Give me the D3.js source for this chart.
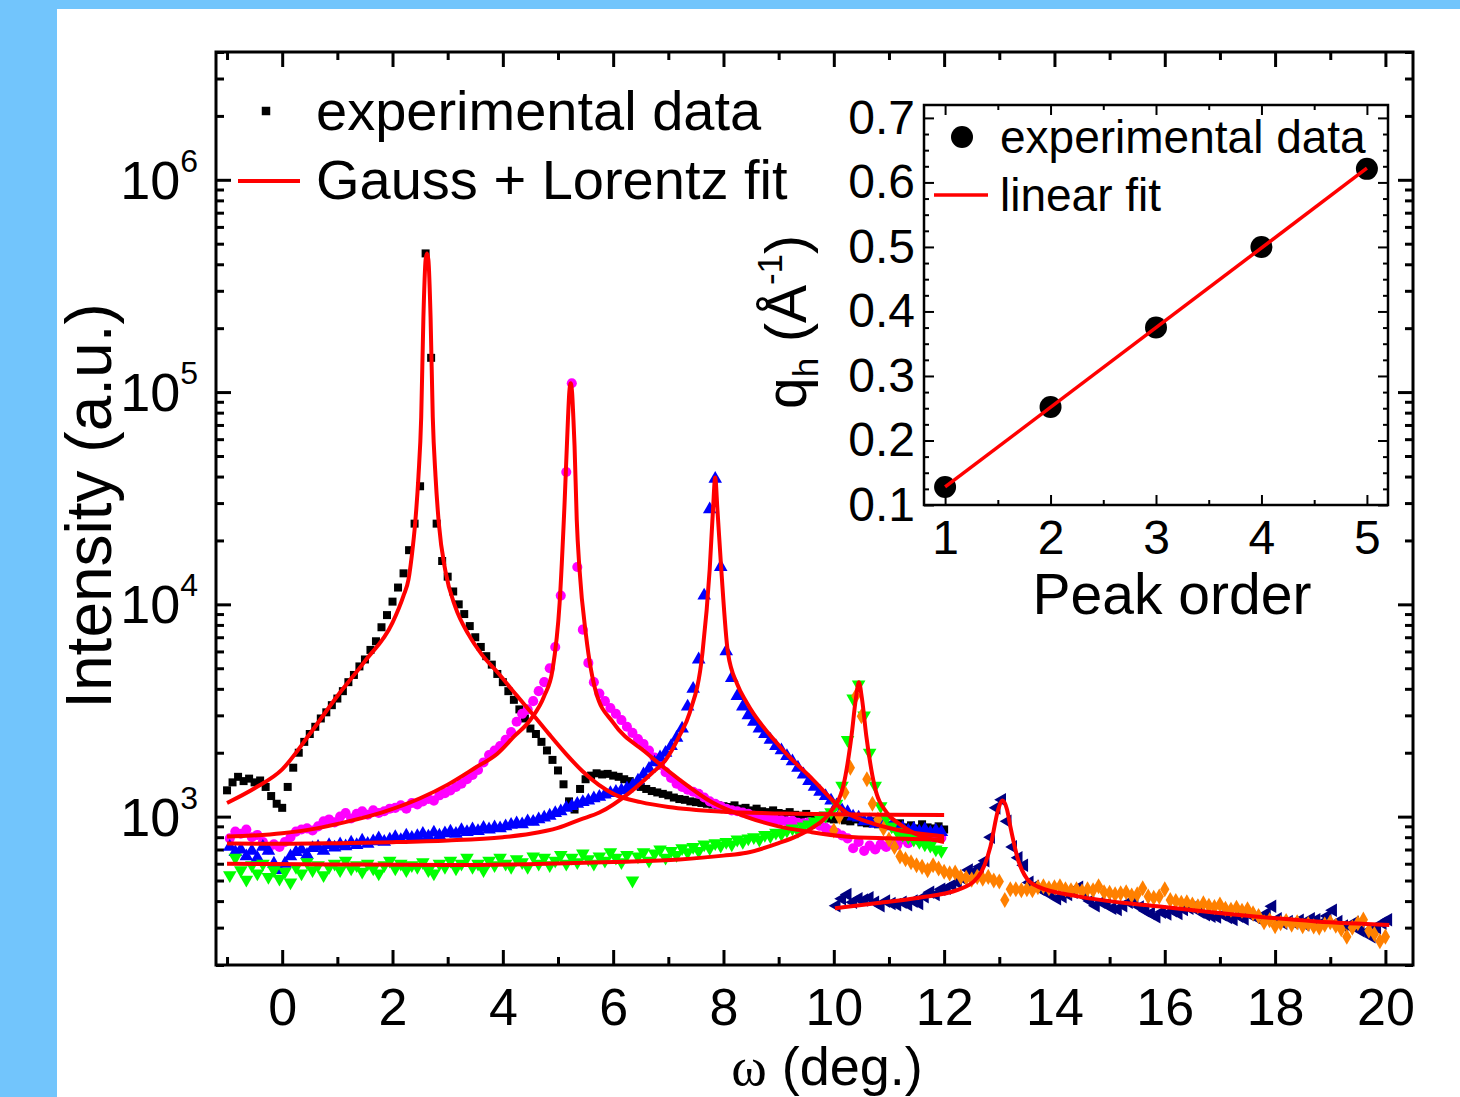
<!DOCTYPE html>
<html>
<head>
<meta charset="utf-8">
<script src="https://cdn.jsdelivr.net/npm/d3@7"></script>
<style>
  body { margin: 0; background: #72c5fc; }
  svg { display: block; }
  text { font-family: "Liberation Sans", Arial, sans-serif; fill: #000; }
</style>
</head>
<body>
<svg id="chart" width="1460" height="1097"></svg>
<script>
// ---- data (omega scans, step 0.1 deg) ----
const scanStep = 0.1;

const blackStart = -1.0;
const blackCounts = [
  1330, 1450, 1540, 1470, 1510, 1450, 1480, 1380, 1250, 1150,
  1100, 1380, 1700, 2000, 2250, 2450, 2650, 2900, 3100, 3350,
  3600, 3900, 4300, 4650, 5100, 5500, 6100, 6700, 7800, 8900,
  10300, 12000, 14000, 18000, 24000, 36000, 450000, 145000, 24000, 16000,
  13500, 11500, 10000, 9000, 7900, 7000, 6300, 5700, 5200, 4700,
  4300, 3900, 3550, 3200, 2900, 2600, 2450, 2250, 2050, 1850,
  1650, 1420, 1180, 1080, 1350, 1500, 1560, 1600, 1580, 1590,
  1560, 1540, 1500, 1470, 1430, 1380, 1350, 1320, 1300, 1280,
  1260, 1230, 1210, 1200, 1180, 1170, 1160, 1150, 1140, 1130,
  1120, 1110, 1130, 1090, 1100, 1070, 1090, 1060, 1050, 1070,
  1040, 1030, 1050, 1020, 1010, 1030, 1000, 990, 1010, 980,
  970, 990, 960, 950, 970, 940, 930, 950, 920, 940,
  910, 900, 930, 890, 910, 880, 920, 890, 880, 900,
  870
];

const magentaStart = -0.95;
const magentaCounts = [
  790, 850, 830, 870, 800, 820, 760, 700, 740, 720,
  760, 800, 850, 870, 880, 860, 900, 950, 970, 940,
  1000, 1040, 980, 1030, 1060, 1020, 1070, 1040, 1060, 1090,
  1100, 1130, 1090, 1160, 1140, 1180, 1210, 1190, 1260, 1290,
  1330, 1380, 1430, 1500, 1570, 1660, 1800, 1950, 2050, 2150,
  2300, 2500, 2800, 3050, 3200, 3500, 3900, 4300, 5000, 6300,
  11000, 42000, 110000, 15000, 7600, 5300, 4300, 3800, 3500, 3250,
  3050, 2850, 2650, 2480, 2320, 2200, 2050, 1900, 1750, 1620,
  1520, 1430, 1380, 1340, 1310, 1280, 1230, 1180, 1150, 1120,
  1090, 1070, 1060, 1045, 1030, 1010, 995, 985, 975, 965,
  960, 950, 955, 935, 930, 940, 925, 905, 885, 860,
  840, 815, 790, 710, 760, 690, 730, 700, 740, 720,
  760, 735, 780, 750, 790, 770, 800, 780, 810, 795
];

const blueStart = -0.95;
const blueCounts = [
  720, 680, 700, 650, 690, 640, 720, 690, 600, 560,
  600, 650, 680, 700, 660, 710, 720, 690, 735, 715,
  740, 725, 755, 735, 770, 745, 765, 790, 760, 780,
  800, 775, 815, 795, 810, 830, 805, 840, 815, 835,
  850, 830, 865, 845, 870, 855, 885, 870, 890, 880,
  900, 915, 930, 920, 950, 945, 970, 990, 1010, 1040,
  1060, 1100, 1120, 1150, 1170, 1190, 1220, 1240, 1270, 1290,
  1310, 1330, 1360, 1400, 1480, 1580, 1680, 1800, 1900, 2000,
  2150, 2350, 2600, 3300, 4000, 5500, 11000, 28000, 39000, 15000,
  6000, 4500, 3700, 3300, 3000, 2800, 2600, 2450, 2300, 2150,
  2050, 1930, 1820, 1700, 1580, 1470, 1380, 1310, 1250, 1190,
  1130, 1070, 1050, 1000, 990, 950, 960, 925, 935, 900,
  905, 880, 885, 860, 875, 850, 870, 840, 860, 845
];

const greenStart = -0.95;
const greenCounts = [
  530, 640, 560, 505, 590, 540, 600, 520, 560, 510,
  550, 490, 580, 540, 610, 560, 590, 530, 580, 600,
  560, 620, 570, 590, 550, 600, 570, 540, 590, 620,
  570, 600, 560, 590, 580, 610, 560, 540, 600, 580,
  620, 570, 600, 640, 580, 600, 560, 620, 590, 640,
  600, 580, 630, 610, 580, 650, 600, 640, 590, 620,
  660, 600, 640, 610, 670, 630, 600, 650, 620, 680,
  640, 610, 660, 500, 650, 680, 620, 670, 700, 640,
  690, 660, 710, 680, 720, 690, 740, 710, 750, 730,
  760, 740, 780, 760, 790, 800, 780, 820, 810, 840,
  830, 860, 880, 860, 900, 920, 950, 980, 1010, 1050,
  1150, 1400, 2300, 3600, 4200, 3000, 2000, 1400, 1120, 980,
  900, 850, 820, 800, 780, 760, 740, 730, 700, 690
];

const orangeStart = 10.0;
const orangeCounts = [
  860, 1000, 1300, 1700, 3700, 2970, 1500, 1150, 970, 880,
  780, 720, 650, 630, 610, 590, 580, 560, 590, 570,
  550, 540, 545, 520, 515, 505, 520, 510, 520, 500,
  495, 405, 455, 455, 450, 455, 450, 465, 470, 460,
  465, 470, 455, 450, 455, 445, 455, 450, 470, 440,
  438, 430, 435, 440, 425, 430, 460, 420, 415, 420,
  455, 405, 400, 393, 395, 385, 378, 390, 380, 375,
  385, 368, 364, 372, 360, 366, 350, 340, 318, 325,
  305, 315, 322, 310, 318, 305, 312, 304, 300, 310,
  318, 306, 295, 272, 300, 315, 327, 290, 280, 259,
  272
];

const navyStart = 10.05;
const navyCounts = [
  380, 410, 430, 395, 410, 405, 415, 395, 380, 400,
  390, 385, 395, 385, 400, 390, 420, 440, 430, 455,
  460, 475, 490, 510, 560, 550, 580, 620, 800, 1100,
  1200, 950, 720, 640, 590, 490, 470, 455, 440, 430,
  410, 420, 430, 440, 465, 420, 400, 380, 395, 385,
  370, 365, 380, 395, 405, 375, 360, 350, 338, 355,
  348, 360, 350, 365, 370, 378, 355, 345, 340, 337,
  345, 335, 328, 340, 330, 345, 337, 325, 350, 378,
  330, 315, 320, 316, 325, 310, 330, 327, 315, 340,
  362, 320, 305, 304, 318, 290, 285, 272, 300, 315,
  327
];

// Gauss + Lorentz fit curves
const fit1Omega = [-1, -0.5, 0, 0.5, 1.0, 1.5, 2.0, 2.2, 2.29, 2.35, 2.41, 2.47, 2.52, 2.56, 2.6, 2.625, 2.65, 2.69, 2.73, 2.78, 2.84, 2.96, 3.14, 3.38, 3.62, 3.93, 4.23, 4.53, 4.83, 5.14, 5.44, 5.74, 6.04, 6.5, 7, 8, 9, 10, 11, 12];
const fit1Counts = [1160, 1360, 1670, 2450, 3700, 5400, 8200, 11000, 13100, 17000, 24000, 40000, 76000, 225000, 420000, 450000, 420000, 225000, 76000, 40000, 24000, 14300, 9700, 7200, 5800, 4700, 3780, 3060, 2460, 1980, 1640, 1410, 1266, 1170, 1110, 1055, 1035, 1025, 1020, 1018];

const fit2Omega = [-1, 0, 0.6, 1.2, 1.8, 2.5, 3.0, 3.5, 3.9, 4.2, 4.5, 4.75, 4.9, 5.03, 5.12, 5.18, 5.205, 5.23, 5.255, 5.28, 5.3, 5.34, 5.39, 5.51, 5.69, 6.0, 6.6, 7.2, 7.8, 8.4, 9.0, 9.6, 10.2, 11, 12];
const fit2Counts = [805, 835, 878, 950, 1045, 1220, 1415, 1700, 1980, 2380, 2860, 3700, 4900, 10200, 30300, 74000, 100000, 110000, 100000, 74000, 55800, 25000, 14600, 7080, 3850, 2770, 2000, 1495, 1165, 1000, 900, 845, 807, 790, 779];

const fit3Omega = [-1, 0, 1, 2, 3, 4, 4.5, 5.0, 5.4, 5.75, 6.3, 6.7, 6.96, 7.2, 7.39, 7.62, 7.75, 7.81, 7.85, 7.89, 7.96, 8.08, 8.25, 8.42, 9.02, 9.62, 10.23, 10.7, 11.14, 12];
const fit3Counts = [747, 745, 750, 758, 772, 800, 830, 885, 968, 1045, 1298, 1600, 1860, 2400, 3100, 5940, 14600, 28000, 39600, 28000, 14600, 5940, 4200, 3450, 2140, 1495, 1045, 930, 868, 807];

const fit4Omega = [-1, 1, 3, 4.8, 6, 7.2, 8.0, 8.42, 9.0, 9.32, 9.65, 9.93, 10.17, 10.32, 10.4, 10.455, 10.51, 10.59, 10.74, 10.96, 11.2, 11.44, 12];
const fit4Counts = [600, 595, 592, 600, 612, 628, 655, 676, 750, 807, 900, 1045, 1390, 2390, 3600, 4290, 3600, 2390, 1390, 1045, 920, 840, 760];

const fit5Omega = [10.02, 10.8, 11.54, 12.26, 12.62, 12.84, 12.98, 13.06, 13.14, 13.2, 13.34, 13.5, 13.7, 14.43, 15.87, 17.3, 18.75, 20.07];
const fit5Counts = [370, 392, 415, 453, 522, 724, 1080, 1190, 1080, 900, 627, 510, 468, 421, 378, 345, 321, 309];

// inset: peak position vs order
const peakOrder = [1, 2, 3, 4, 5];
const qh = [0.128, 0.252, 0.375, 0.500, 0.621];
const linearFitOrder = [1, 5];
const linearFitQ = [0.128, 0.622];

// ticks
const xMajorTicks = [0, 2, 4, 6, 8, 10, 12, 14, 16, 18, 20];
const xMinorTicks = [-1, 1, 3, 5, 7, 9, 11, 13, 15, 17, 19];
const yDecadeTicks = [1e3, 1e4, 1e5, 1e6];
const yDecadeExponents = ["3", "4", "5", "6"];
const insetYTicks = [0.1, 0.2, 0.3, 0.4, 0.5, 0.6, 0.7];
const insetXTicks = [1, 2, 3, 4, 5];

// ---- layout ----
const svg = d3.select("#chart");
svg.append("rect").attr("x", 57).attr("y", 9).attr("width", 1403).attr("height", 1088).attr("fill", "#fff");

const plot = { left: 216, right: 1413, top: 52, bottom: 965 };
const x = d3.scaleLinear().domain([-1.2, 20.5]).range([plot.left, plot.right]);
const y = d3.scaleLog().domain([200, 4e6]).range([plot.bottom, plot.top]);

svg.append("clipPath").attr("id", "clip")
  .append("rect")
  .attr("x", plot.left).attr("y", plot.top)
  .attr("width", plot.right - plot.left).attr("height", plot.bottom - plot.top);

// axes: ticks point inward, no domain line (frame drawn separately)
function styleAxis(g, width) {
  g.select(".domain").remove();
  g.selectAll(".tick line").attr("stroke", "#000").attr("stroke-width", width);
}

const minorLog = y.ticks().filter(v => !yDecadeTicks.includes(v));

svg.append("g").attr("transform", `translate(0,${plot.bottom})`)
  .call(d3.axisBottom(x).tickValues(xMajorTicks).tickSize(-15).tickPadding(23).tickFormat(d3.format("d")))
  .call(g => styleAxis(g, 3))
  .call(g => g.selectAll("text").attr("font-size", 52).attr("font-family", "Liberation Sans, Arial, sans-serif"));
svg.append("g").attr("transform", `translate(0,${plot.bottom})`)
  .call(d3.axisBottom(x).tickValues(xMinorTicks).tickSize(-8).tickFormat(""))
  .call(g => styleAxis(g, 3));
svg.append("g").attr("transform", `translate(0,${plot.top})`)
  .call(d3.axisTop(x).tickValues(xMajorTicks).tickSize(-15).tickFormat(""))
  .call(g => styleAxis(g, 3));
svg.append("g").attr("transform", `translate(0,${plot.top})`)
  .call(d3.axisTop(x).tickValues(xMinorTicks).tickSize(-8).tickFormat(""))
  .call(g => styleAxis(g, 3));

svg.append("g").attr("transform", `translate(${plot.left},0)`)
  .call(d3.axisLeft(y).tickValues(yDecadeTicks).tickSize(-15).tickFormat(""))
  .call(g => styleAxis(g, 3));
svg.append("g").attr("transform", `translate(${plot.left},0)`)
  .call(d3.axisLeft(y).tickValues(minorLog).tickSize(-8).tickFormat(""))
  .call(g => styleAxis(g, 3));
svg.append("g").attr("transform", `translate(${plot.right},0)`)
  .call(d3.axisRight(y).tickValues(yDecadeTicks).tickSize(-15).tickFormat(""))
  .call(g => styleAxis(g, 3));
svg.append("g").attr("transform", `translate(${plot.right},0)`)
  .call(d3.axisRight(y).tickValues(minorLog).tickSize(-8).tickFormat(""))
  .call(g => styleAxis(g, 3));

// 10^n labels
const yLabels = svg.append("g").selectAll("text")
  .data(yDecadeTicks)
  .enter().append("text")
  .attr("x", plot.left - 18)
  .attr("y", d => y(d) + 19)
  .attr("text-anchor", "end");
yLabels.append("tspan").attr("font-size", 54).text("10");
yLabels.append("tspan").attr("font-size", 32).attr("dy", -27).text((d, i) => yDecadeExponents[i]);

// scatter data
const scatter = [
  { start: blackStart, counts: blackCounts, type: d3.symbolSquare, size: 64, color: "#000000", angle: 0 },
  { start: magentaStart, counts: magentaCounts, type: d3.symbolCircle, size: 80, color: "#ff00ff", angle: 0 },
  { start: blueStart, counts: blueCounts, type: d3.symbolTriangle, size: 80, color: "#0000ff", angle: 0 },
  { start: greenStart, counts: greenCounts, type: d3.symbolTriangle, size: 80, color: "#00ff00", angle: 180 },
  { start: navyStart, counts: navyCounts, type: d3.symbolTriangle, size: 80, color: "#000080", angle: -90 },
  { start: orangeStart, counts: orangeCounts, type: d3.symbolDiamond, size: 75, color: "#ff8000", angle: 0 }
];

const dataG = svg.append("g").attr("clip-path", "url(#clip)");
scatter.forEach(s => {
  const pts = s.counts.map((c, i) => ({ omega: s.start + i * scanStep, counts: c }));
  dataG.append("g").selectAll("path")
    .data(pts)
    .enter().append("path")
    .attr("d", d3.symbol(s.type, s.size))
    .attr("transform", d => `translate(${x(d.omega)},${y(d.counts)}) rotate(${s.angle})`)
    .attr("fill", s.color);
});

// fit curves
const fitLine = d3.line()
  .x(d => x(d[0]))
  .y(d => y(d[1]))
  .curve(d3.curveMonotoneX);
[[fit1Omega, fit1Counts], [fit2Omega, fit2Counts], [fit3Omega, fit3Counts],
 [fit4Omega, fit4Counts], [fit5Omega, fit5Counts]].forEach(([om, ct]) => {
  dataG.append("path")
    .datum(om.map((o, i) => [o, ct[i]]))
    .attr("d", fitLine)
    .attr("fill", "none")
    .attr("stroke", "#ff0000")
    .attr("stroke-width", 4)
    .attr("stroke-linejoin", "round");
});

// frame
svg.append("rect")
  .attr("x", plot.left).attr("y", plot.top)
  .attr("width", plot.right - plot.left).attr("height", plot.bottom - plot.top)
  .attr("fill", "none").attr("stroke", "#000").attr("stroke-width", 3);

// axis titles
svg.append("text")
  .attr("transform", "translate(111,506) rotate(-90)")
  .attr("text-anchor", "middle")
  .attr("font-size", 64)
  .text("Intensity (a.u.)");
const xTitle = svg.append("text")
  .attr("x", 827).attr("y", 1085)
  .attr("text-anchor", "middle")
  .attr("font-size", 54);
xTitle.append("tspan").attr("font-family", "Liberation Serif, Times New Roman, serif").text("ω");
xTitle.append("tspan").text(" (deg.)");

// main legend
const legend = svg.append("g");
legend.append("path")
  .attr("d", d3.symbol(d3.symbolSquare, 72))
  .attr("transform", "translate(266,111)");
legend.append("text").attr("x", 316).attr("y", 130).attr("font-size", 56).text("experimental data");
legend.append("line")
  .attr("x1", 238).attr("x2", 300).attr("y1", 181).attr("y2", 181)
  .attr("stroke", "#ff0000").attr("stroke-width", 4);
legend.append("text").attr("x", 316).attr("y", 199).attr("font-size", 56).text("Gauss + Lorentz fit");

// ---- inset ----
const inset = { left: 924, right: 1388, top: 105, bottom: 505 };
const ix = d3.scaleLinear().domain([0.8, 5.2]).range([inset.left, inset.right]);
const iy = d3.scaleLinear().domain([0.1, 0.72]).range([inset.bottom, inset.top]);
const insetXMinor = d3.range(1.5, 5.5, 1);
const insetYMinor = d3.range(0.125, 0.72, 0.025).filter(v => Math.abs(v * 10 - Math.round(v * 10)) > 0.01);

const ig = svg.append("g");
ig.append("rect")
  .attr("x", inset.left).attr("y", inset.top)
  .attr("width", inset.right - inset.left).attr("height", inset.bottom - inset.top)
  .attr("fill", "#fff");

ig.append("g").attr("transform", `translate(0,${inset.bottom})`)
  .call(d3.axisBottom(ix).tickValues(insetXTicks).tickSize(-10).tickPadding(15).tickFormat(d3.format("d")))
  .call(g => styleAxis(g, 2))
  .call(g => g.selectAll("text").attr("font-size", 48).attr("font-family", "Liberation Sans, Arial, sans-serif"));
ig.append("g").attr("transform", `translate(0,${inset.bottom})`)
  .call(d3.axisBottom(ix).tickValues(insetXMinor).tickSize(-5).tickFormat(""))
  .call(g => styleAxis(g, 2));
ig.append("g").attr("transform", `translate(0,${inset.top})`)
  .call(d3.axisTop(ix).tickValues(insetXTicks).tickSize(-10).tickFormat(""))
  .call(g => styleAxis(g, 2));
ig.append("g").attr("transform", `translate(0,${inset.top})`)
  .call(d3.axisTop(ix).tickValues(insetXMinor).tickSize(-5).tickFormat(""))
  .call(g => styleAxis(g, 2));

ig.append("g").attr("transform", `translate(${inset.left},0)`)
  .call(d3.axisLeft(iy).tickValues(insetYTicks).tickSize(-10).tickPadding(9).tickFormat(d3.format(".1f")))
  .call(g => styleAxis(g, 2))
  .call(g => g.selectAll("text").attr("font-size", 48).attr("font-family", "Liberation Sans, Arial, sans-serif"));
ig.append("g").attr("transform", `translate(${inset.left},0)`)
  .call(d3.axisLeft(iy).tickValues(insetYMinor).tickSize(-5).tickFormat(""))
  .call(g => styleAxis(g, 2));
ig.append("g").attr("transform", `translate(${inset.right},0)`)
  .call(d3.axisRight(iy).tickValues(insetYTicks).tickSize(-10).tickFormat(""))
  .call(g => styleAxis(g, 2));
ig.append("g").attr("transform", `translate(${inset.right},0)`)
  .call(d3.axisRight(iy).tickValues(insetYMinor).tickSize(-5).tickFormat(""))
  .call(g => styleAxis(g, 2));

ig.selectAll("circle.pt")
  .data(peakOrder)
  .enter().append("circle")
  .attr("class", "pt")
  .attr("cx", d => ix(d))
  .attr("cy", (d, i) => iy(qh[i]))
  .attr("r", 11)
  .attr("fill", "#000");

ig.append("path")
  .datum(linearFitOrder.map((o, i) => [o, linearFitQ[i]]))
  .attr("d", d3.line().x(d => ix(d[0])).y(d => iy(d[1])))
  .attr("stroke", "#ff0000")
  .attr("stroke-width", 3.5)
  .attr("fill", "none");

ig.append("rect")
  .attr("x", inset.left).attr("y", inset.top)
  .attr("width", inset.right - inset.left).attr("height", inset.bottom - inset.top)
  .attr("fill", "none").attr("stroke", "#000").attr("stroke-width", 2.5);

// inset legend
ig.append("circle").attr("cx", 962).attr("cy", 137).attr("r", 11).attr("fill", "#000");
ig.append("text").attr("x", 1000).attr("y", 153).attr("font-size", 46).text("experimental data");
ig.append("line")
  .attr("x1", 934).attr("x2", 988).attr("y1", 195).attr("y2", 195)
  .attr("stroke", "#ff0000").attr("stroke-width", 3.5);
ig.append("text").attr("x", 1000).attr("y", 211).attr("font-size", 46).text("linear fit");

// inset titles
ig.append("text")
  .attr("x", 1172).attr("y", 614)
  .attr("text-anchor", "middle")
  .attr("font-size", 57)
  .text("Peak order");
const qTitle = ig.append("text")
  .attr("transform", "translate(806,322) rotate(-90)")
  .attr("text-anchor", "middle")
  .attr("font-size", 57);
qTitle.append("tspan").text("q");
qTitle.append("tspan").attr("font-size", 35).attr("dy", 12).text("h");
qTitle.append("tspan").attr("dy", -12).text(" (Å");
qTitle.append("tspan").attr("font-size", 35).attr("dy", -24).text("-1");
qTitle.append("tspan").attr("dy", 24).text(")");
</script>
</body>
</html>
